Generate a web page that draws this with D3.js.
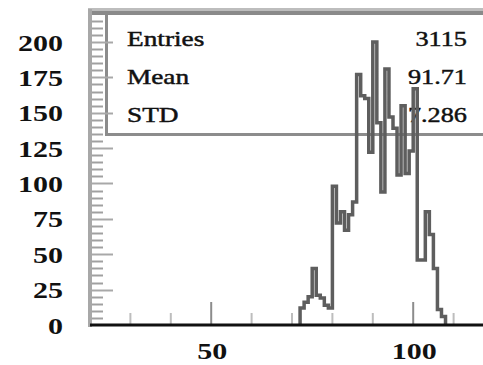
<!DOCTYPE html>
<html>
<head>
<meta charset="utf-8">
<script src="https://cdn.jsdelivr.net/npm/d3@7"></script>
<style>
  html, body { margin: 0; padding: 0; background: #fff; }
  svg { display: block; }
</style>
</head>
<body>
<svg id="chart" width="483" height="365"></svg>
<script>
// Histogram contents: one-unit bins starting at binStarts[i]
const binStarts = [72, 73, 74, 75, 76, 77, 78, 79,
                   80, 81, 82, 83, 84, 85,
                   86, 87, 88, 89, 90, 91, 92, 93,
                   94, 95, 96, 97, 98, 99, 100,
                   101, 102, 103, 104, 105, 106, 107];
const counts = [12, 16, 20, 40, 21, 19, 14, 12,
                98, 72, 80, 67, 78, 87,
                177, 162, 160, 122, 200, 143, 94, 181,
                147, 139, 106, 155, 107, 123, 167,
                46, 46, 80, 64, 40, 11, 6];
const binWidth = 1;

// Axis ticks
const yTickValues = [0, 25, 50, 75, 100, 125, 150, 175, 200];
const yTickLabels = ["0", "25", "50", "75", "100", "125", "150", "175", "200"];
const xTickValues = [50, 100];
const xTickLabels = ["50", "100"];
const xMinorTicks = [30, 40, 60, 70, 80, 90, 110];

// Statistics box
const statNames = ["Entries", "Mean", "STD"];
const statValues = ["3115", "91.71", "7.286"];

const W = 483, H = 365;
const svg = d3.select("#chart");
const serif = "'Liberation Serif', 'DejaVu Serif', serif";

const x = d3.scaleLinear().domain([20, 120]).range([90, 494]);
const y = d3.scaleLinear().domain([0, 220]).range([325, 13.7]);

// ---- statistics box ----
const boxLeft = 106.5, boxBottom = 134.5;
svg.append("rect")
  .attr("x", boxLeft).attr("y", 13)
  .attr("width", W - boxLeft).attr("height", boxBottom - 13)
  .attr("fill", "#fff");
svg.append("line")
  .attr("x1", boxLeft).attr("x2", boxLeft)
  .attr("y1", 13).attr("y2", boxBottom + 1.5)
  .attr("stroke", "#8c8c8c").attr("stroke-width", 3);
svg.append("line")
  .attr("x1", boxLeft - 1.5).attr("x2", W)
  .attr("y1", boxBottom).attr("y2", boxBottom)
  .attr("stroke", "#8c8c8c").attr("stroke-width", 3);

// top frame (double grey rule)
svg.append("line")
  .attr("x1", 88).attr("x2", W).attr("y1", 9.5).attr("y2", 9.5)
  .attr("stroke", "#bdbdbd").attr("stroke-width", 3);
svg.append("line")
  .attr("x1", 88).attr("x2", W).attr("y1", 13).attr("y2", 13)
  .attr("stroke", "#8a8a8a").attr("stroke-width", 4);

const statBaselines = [46, 84, 122];
statNames.forEach((name, i) => {
  svg.append("text")
    .attr("transform", `translate(127,${statBaselines[i]}) scale(1.3,1)`)
    .attr("font-family", serif).attr("font-size", 21)
    .attr("fill", "#111").attr("stroke", "#111").attr("stroke-width", 0.45)
    .text(name);
  svg.append("text")
    .attr("transform", `translate(467,${statBaselines[i]}) scale(1.25,1)`)
    .attr("text-anchor", "end")
    .attr("font-family", serif).attr("font-size", 21)
    .attr("fill", "#111").attr("stroke", "#111").attr("stroke-width", 0.45)
    .text(statValues[i]);
});

// ---- left axis ----
svg.append("line")
  .attr("x1", 90).attr("x2", 90).attr("y1", 9).attr("y2", 327)
  .attr("stroke", "#a8a8a8").attr("stroke-width", 4);

const yMinor = d3.range(5, 220, 5).filter(v => v % 25 !== 0);
svg.append("g").selectAll("line").data(yMinor).join("line")
  .attr("x1", 92).attr("x2", 103)
  .attr("y1", d => Math.round(y(d)) + 0.5).attr("y2", d => Math.round(y(d)) + 0.5)
  .attr("stroke", "#a0a0a0").attr("stroke-width", 2);
svg.append("g").selectAll("line").data(yTickValues.filter(v => v > 0)).join("line")
  .attr("x1", 92).attr("x2", 113)
  .attr("y1", d => Math.round(y(d)) + 0.5).attr("y2", d => Math.round(y(d)) + 0.5)
  .attr("stroke", "#a8a8a8").attr("stroke-width", 2);

svg.append("g").selectAll("text").data(yTickValues).join("text")
  .attr("transform", d => `translate(63,${y(d) + 8.5}) scale(1.25,1)`)
  .attr("text-anchor", "end")
  .attr("font-family", serif).attr("font-size", 24).attr("font-weight", "bold")
  .attr("fill", "#111")
  .text((d, i) => yTickLabels[i]);

// ---- bottom axis ----
svg.append("g").selectAll("line").data(xMinorTicks).join("line")
  .attr("x1", d => x(d)).attr("x2", d => x(d))
  .attr("y1", 313).attr("y2", 324)
  .attr("stroke", "#bdbdbd").attr("stroke-width", 2);
svg.append("g").selectAll("line").data(xTickValues).join("line")
  .attr("x1", d => x(d)).attr("x2", d => x(d))
  .attr("y1", 302).attr("y2", 324)
  .attr("stroke", "#8c8c8c").attr("stroke-width", 2);

svg.append("g").selectAll("text").data(xTickValues).join("text")
  .attr("transform", d => `translate(${x(d) + 1},359) scale(1.25,1)`)
  .attr("text-anchor", "middle")
  .attr("font-family", serif).attr("font-size", 24).attr("font-weight", "bold")
  .attr("fill", "#111")
  .text((d, i) => xTickLabels[i]);

// ---- histogram outline ----
const pts = [[binStarts[0], 0]];
binStarts.forEach((b, i) => {
  pts.push([b, counts[i]]);
  pts.push([b + binWidth, counts[i]]);
});
pts.push([binStarts[binStarts.length - 1] + binWidth, 0]);

svg.append("path")
  .datum(pts)
  .attr("d", d3.line().x(d => x(d[0])).y(d => y(d[1])))
  .attr("fill", "none")
  .attr("stroke", "#5e5e5e")
  .attr("stroke-width", 3.5)
  .attr("stroke-linejoin", "miter");

svg.append("line")
  .attr("x1", 90).attr("x2", W).attr("y1", 325).attr("y2", 325)
  .attr("stroke", "#111").attr("stroke-width", 3);
</script>
</body>
</html>
